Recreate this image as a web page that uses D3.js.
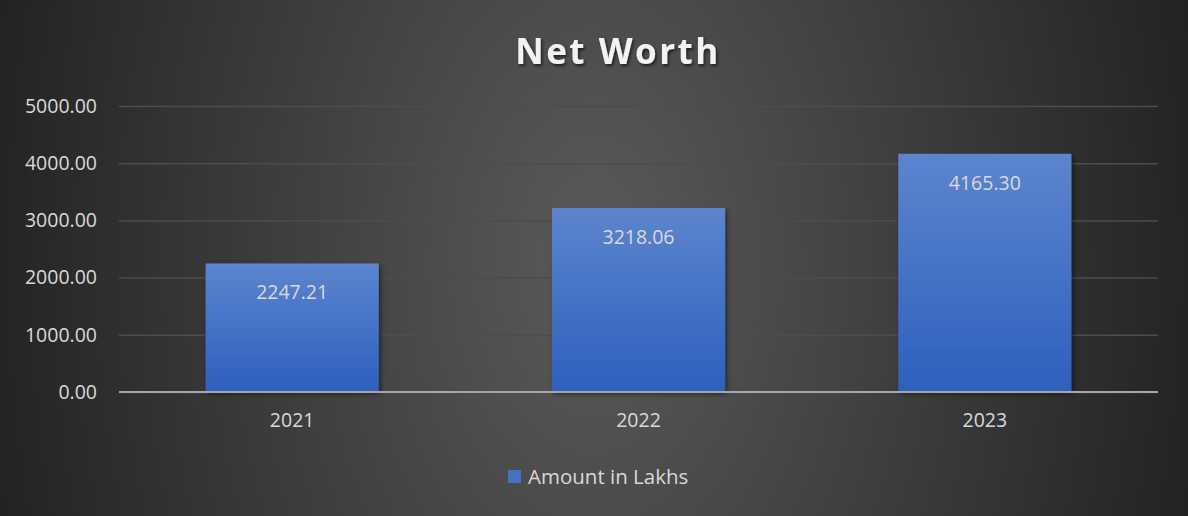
<!DOCTYPE html>
<html>
<head>
<meta charset="utf-8">
<script src="https://cdn.jsdelivr.net/npm/d3@7"></script>
<style>
  body { margin: 0; background: #2a2a2a; }
  svg { display: block; font-family: "Open Sans", "Noto Sans", sans-serif; }
</style>
</head>
<body>
<svg id="chart"></svg>
<script>
// net worth by year
const years = ["2021", "2022", "2023"];
const amounts = [2247.21, 3218.06, 4165.30];
const yTicks = [0, 1000, 2000, 3000, 4000, 5000];
const seriesName = "Amount in Lakhs";

const W = 1188, H = 516;
const margin = {top: 106, right: 30, bottom: 124, left: 119};
const width = W - margin.left - margin.right;
const height = H - margin.top - margin.bottom;
const font = '"Open Sans", "Noto Sans", sans-serif';

const svg = d3.select("#chart").attr("width", W).attr("height", H);
const defs = svg.append("defs");

// background: radial, lighter in the middle, wider than tall
const bg = defs.append("radialGradient").attr("id", "bg")
  .attr("gradientUnits", "userSpaceOnUse")
  .attr("cx", 594).attr("cy", 258).attr("r", 620)
  .attr("gradientTransform", "translate(594,258) scale(1,1.6) translate(-594,-258)");
bg.append("stop").attr("offset", "0%").attr("stop-color", "#5a5a5a");
bg.append("stop").attr("offset", "100%").attr("stop-color", "#222222");

const barGrad = defs.append("linearGradient").attr("id", "bar")
  .attr("x1", 0).attr("y1", 0).attr("x2", 0).attr("y2", 1);
barGrad.append("stop").attr("offset", "0%").attr("stop-color", "#5c85cd");
barGrad.append("stop").attr("offset", "100%").attr("stop-color", "#2e5fbe");

const shadow = defs.append("filter").attr("id", "shadow")
  .attr("x", "-10%").attr("y", "-10%").attr("width", "130%").attr("height", "130%");
shadow.append("feDropShadow").attr("dx", 2).attr("dy", 2).attr("stdDeviation", 2.5)
  .attr("flood-color", "#000").attr("flood-opacity", 0.5);

const tshadow = defs.append("filter").attr("id", "tshadow");
tshadow.append("feDropShadow").attr("dx", 1.5).attr("dy", 2).attr("stdDeviation", 1.5)
  .attr("flood-color", "#000").attr("flood-opacity", 0.6);

svg.append("rect").attr("width", W).attr("height", H).attr("fill", "url(#bg)");

svg.append("text")
  .attr("x", 618).attr("y", 64)
  .attr("text-anchor", "middle")
  .attr("fill", "#f2f2f2")
  .attr("font-size", 35).attr("font-weight", "bold")
  .attr("letter-spacing", 2.5)
  .attr("filter", "url(#tshadow)")
  .text("Net Worth");

const g = svg.append("g").attr("transform", `translate(${margin.left},${margin.top})`);

const x = d3.scaleBand().domain(years).range([0, width]).paddingInner(0.5).paddingOuter(0.25);
const y = d3.scaleLinear().domain([0, 5000]).range([height, 0]);

const yAxis = g.append("g")
  .call(d3.axisLeft(y).tickValues(yTicks).tickSize(-width).tickFormat(d3.format(".2f")).tickPadding(22));
yAxis.attr("font-family", font);
yAxis.select(".domain").remove();
yAxis.selectAll(".tick line").attr("stroke", "#4d4d4d").attr("stroke-width", 1.5);
yAxis.selectAll(".tick text").attr("fill", "#d9d9d9").attr("font-size", 19.5);

g.selectAll("rect.bar")
  .data(amounts)
  .join("rect")
  .attr("class", "bar")
  .attr("x", (d, i) => x(years[i]))
  .attr("y", d => y(d))
  .attr("width", x.bandwidth())
  .attr("height", d => height - y(d))
  .attr("fill", "url(#bar)")
  .attr("filter", "url(#shadow)");

g.selectAll("text.lbl")
  .data(amounts)
  .join("text")
  .attr("class", "lbl")
  .attr("x", (d, i) => x(years[i]) + x.bandwidth() / 2)
  .attr("y", d => y(d) + 36)
  .attr("text-anchor", "middle")
  .attr("fill", "#d9d9d9")
  .attr("font-size", 19.5)
  .text(d => d.toFixed(2));

// zero axis line
g.append("line")
  .attr("x1", 0).attr("x2", width)
  .attr("y1", y(0)).attr("y2", y(0))
  .attr("stroke", "#a6a6a6").attr("stroke-width", 2);

const xAxis = g.append("g").attr("transform", `translate(0,${height})`)
  .call(d3.axisBottom(x).tickSize(0).tickPadding(21));
xAxis.attr("font-family", font);
xAxis.select(".domain").remove();
xAxis.selectAll(".tick text").attr("fill", "#d9d9d9").attr("font-size", 19.5);

// legend
const leg = svg.append("g").attr("transform", "translate(508,470)");
leg.append("rect").attr("width", 13).attr("height", 13).attr("fill", "#4472c4");
leg.append("text").attr("x", 20).attr("y", 14)
  .attr("fill", "#d9d9d9").attr("font-size", 20.5).text(seriesName);
</script>
</body>
</html>
